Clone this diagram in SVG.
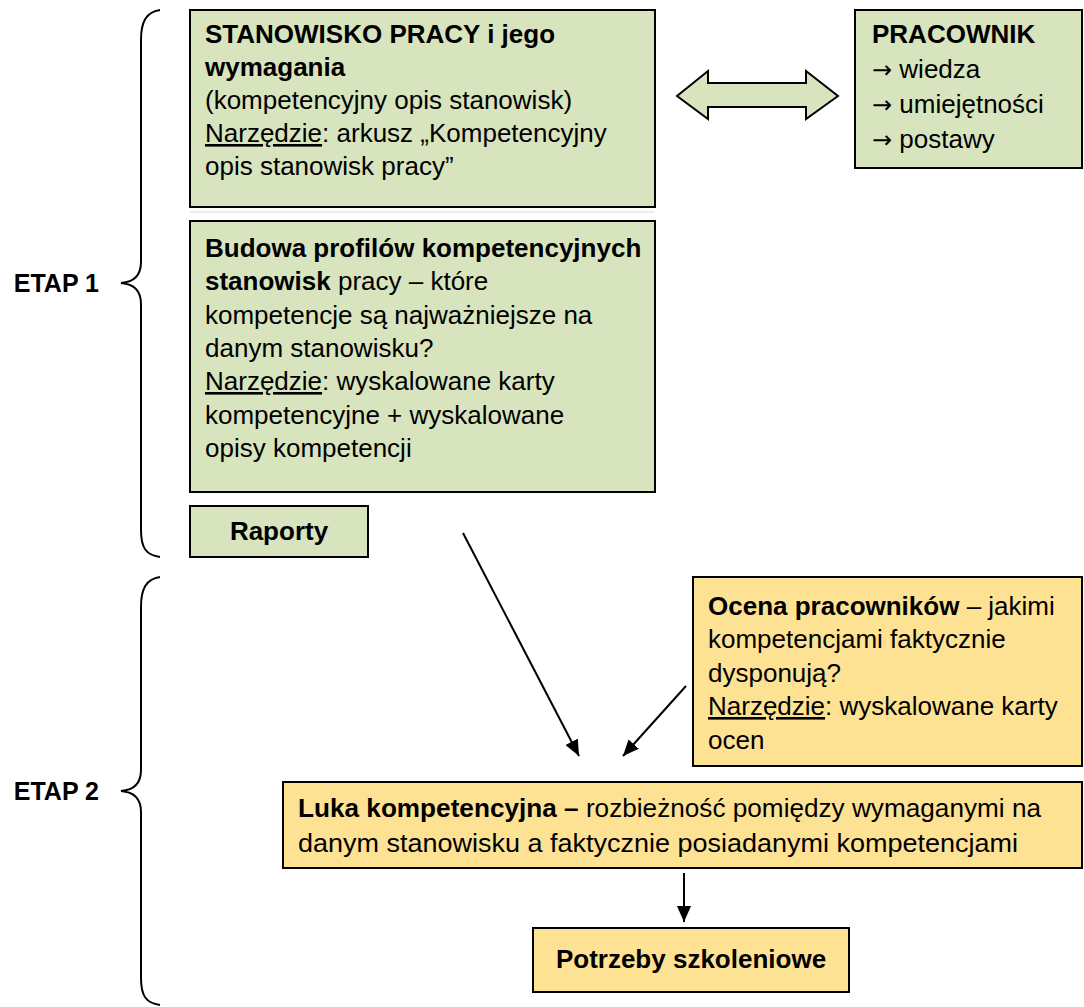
<svg xmlns="http://www.w3.org/2000/svg" width="1084" height="1007" viewBox="0 0 1084 1007">
<defs>
<style>
text{font-family:"Liberation Sans",Arial,sans-serif;font-size:26px;fill:#000}
.b{font-weight:bold}
.u{text-decoration:underline}
.ar{font-family:"DejaVu Sans",sans-serif;font-size:24px}
.et{font-size:25px;font-weight:bold}
.g{fill:#D7E4BD;stroke:#000;stroke-width:2}
.y{fill:#FEE293;stroke:#000;stroke-width:2}
.ln{stroke:#000;stroke-width:2;fill:none}
.br{stroke:#000;stroke-width:2;fill:none}
</style>
<marker id="ah" viewBox="0 0 16 14" refX="16" refY="7" markerWidth="16" markerHeight="14" markerUnits="userSpaceOnUse" orient="auto">
<path d="M0,0 L16,7 L0,14 z" fill="#000"/>
</marker>
</defs>
<rect width="1084" height="1007" fill="#fff"/>

<g id="brace1">
<path class="br" d="M160,10 C146,12 141,22 141,40 L141,262 C141,276 134,282 121,283 C134,284 141,290 141,304 L141,530 C141,548 146,555 160,557"/>
<text class="et" x="99" y="292" text-anchor="end">ETAP 1</text>
</g>
<g id="brace2">
<path class="br" d="M160,577 C146,579 141,589 141,607 L141,770 C141,784 134,790 121,791 C134,792 141,798 141,812 L141,978 C141,996 146,1003 160,1005"/>
<text class="et" x="99" y="800" text-anchor="end">ETAP 2</text>
</g>

<g id="stanowisko">
<rect class="g" x="190" y="10" width="465" height="197"/>
<line x1="190" y1="212" x2="655" y2="212" stroke="#d9d9d9" stroke-width="1"/>
<text x="205" y="43" class="b">STANOWISKO PRACY i jego</text>
<text x="205" y="76" class="b">wymagania</text>
<text x="205" y="109">(kompetencyjny opis stanowisk)</text>
<text x="205" y="142"><tspan class="u">Narzędzie</tspan>: arkusz „Kompetencyjny</text>
<text x="205" y="175">opis stanowisk pracy”</text>
</g>

<g id="dwustronna">
<polygon class="g" stroke-width="1.5" points="677,96 708,71 708,83 806,83 806,71 838,96 806,119 806,107 708,107 708,119"/>
</g>

<g id="pracownik">
<rect class="g" x="855" y="10" width="227" height="158"/>
<text x="872" y="43" class="b">PRACOWNIK</text>
<text x="872" y="78"><tspan class="ar">→</tspan> wiedza</text>
<text x="872" y="113"><tspan class="ar">→</tspan> umiejętności</text>
<text x="872" y="148"><tspan class="ar">→</tspan> postawy</text>
</g>

<g id="budowa">
<rect class="g" x="190" y="221" width="465" height="271"/>
<text x="205" y="257" class="b">Budowa profilów kompetencyjnych</text>
<text x="205" y="290"><tspan class="b">stanowisk</tspan> pracy – które</text>
<text x="205" y="324">kompetencje są najważniejsze na</text>
<text x="205" y="357">danym stanowisku?</text>
<text x="205" y="390"><tspan class="u">Narzędzie</tspan>: wyskalowane karty</text>
<text x="205" y="424">kompetencyjne + wyskalowane</text>
<text x="205" y="457">opisy kompetencji</text>
</g>

<g id="raporty">
<rect class="g" x="190" y="506" width="178" height="51"/>
<text x="279" y="540" class="b" text-anchor="middle">Raporty</text>
</g>

<g id="ocena">
<rect class="y" x="693" y="577" width="389" height="189"/>
<text x="708" y="615"><tspan class="b">Ocena pracowników</tspan> – jakimi</text>
<text x="708" y="648">kompetencjami faktycznie</text>
<text x="708" y="682">dysponują?</text>
<text x="708" y="715"><tspan class="u">Narzędzie</tspan>: wyskalowane karty</text>
<text x="708" y="749">ocen</text>
</g>

<g id="luka">
<rect class="y" x="283" y="782" width="799" height="86"/>
<text x="298" y="817" textLength="743" lengthAdjust="spacingAndGlyphs"><tspan class="b">Luka kompetencyjna –</tspan> rozbieżność pomiędzy wymaganymi na</text>
<text x="298" y="852" textLength="720" lengthAdjust="spacingAndGlyphs">danym stanowisku a faktycznie posiadanymi kompetencjami</text>
</g>

<g id="potrzeby">
<rect class="y" x="533" y="928" width="316" height="64"/>
<text x="691" y="968" class="b" text-anchor="middle">Potrzeby szkoleniowe</text>
</g>

<g id="connectors">
<line class="ln" x1="463" y1="533" x2="579" y2="756" marker-end="url(#ah)"/>
<line class="ln" x1="686" y1="686" x2="623" y2="756" marker-end="url(#ah)"/>
<line class="ln" x1="684" y1="873" x2="684" y2="922" marker-end="url(#ah)"/>
</g>
</svg>
